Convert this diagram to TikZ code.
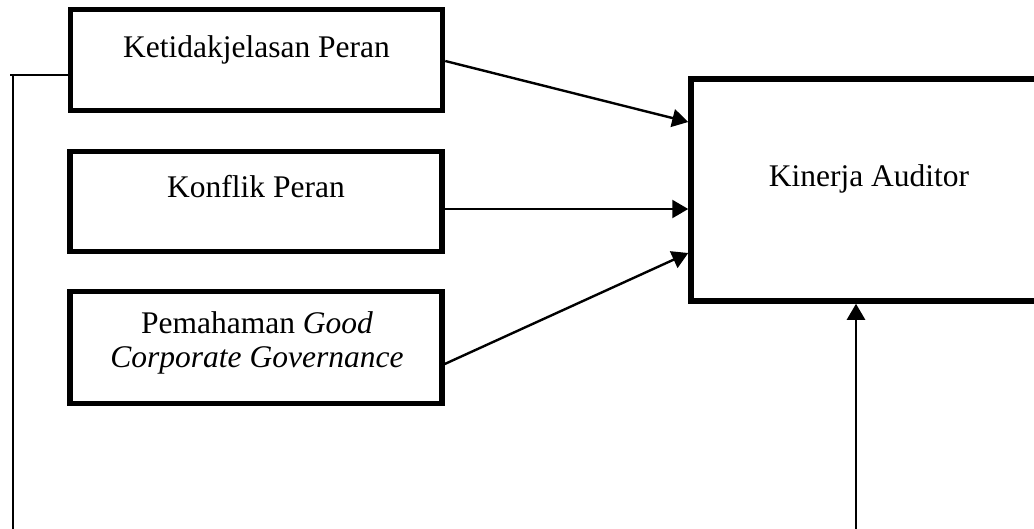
\documentclass[tikz,border=0pt]{standalone}
\usepackage{fontspec}
\setmainfont{Liberation Serif}
\usetikzlibrary{arrows.meta,calc}
\begin{document}
\begin{tikzpicture}[x=1pt,y=-1pt,
  varbox/.style={draw,line width=5.5pt,inner sep=0pt,minimum width=372pt},
  lbl/.style={font=\fontsize{31.5}{34}\selectfont,anchor=base,inner sep=0pt},
  conn/.style={line width=2.4pt},
  arr/.style={line width=2.4pt,-{Triangle[length=16pt,width=18pt]}}]
\useasboundingbox (0,0) rectangle (1034,528);
\clip (0,0) rectangle (1034,528);
% boxes
\node[varbox,minimum height=101pt] (b1) at (256.5,60) {};
\node[varbox,minimum height=100pt] (b2) at (256,201.5) {};
\node[varbox,minimum height=112pt] (b3) at (256,347.5) {};
\node[varbox,minimum width=357pt,minimum height=222pt] (k) at (869.5,190) {};
% texts
\node[lbl] (t1) at (256.5,57) {Ketidakjelasan Peran};
\node[lbl] (t2) at (256,197) {Konflik Peran};
\node[lbl] (t3) at (257,333) {\begin{tabular}[t]{@{}c@{}}Pemahaman \textit{Good}\\\textit{Corporate Governance}\end{tabular}};
\node[lbl] (tk) at (869,186) {Kinerja Auditor};
% connectors
\coordinate (c1) at (13,75);
\coordinate (c2) at (13,535);
\coordinate (c3) at (856,535);
\draw[conn] (b1.west |- 0,75) -- (10,75);
\draw[conn] (c1) -- (c2);
\draw[arr] (b1.east |- 0,61) -- (k.west |- 0,122);
\draw[arr] (b2.east |- 0,209) -- (k.west |- 0,209);
\draw[arr] (b3.east |- 0,364) -- (k.west |- 0,253);
\draw[arr] (c3) -- (k.south -| c3);
\end{tikzpicture}
\end{document}
